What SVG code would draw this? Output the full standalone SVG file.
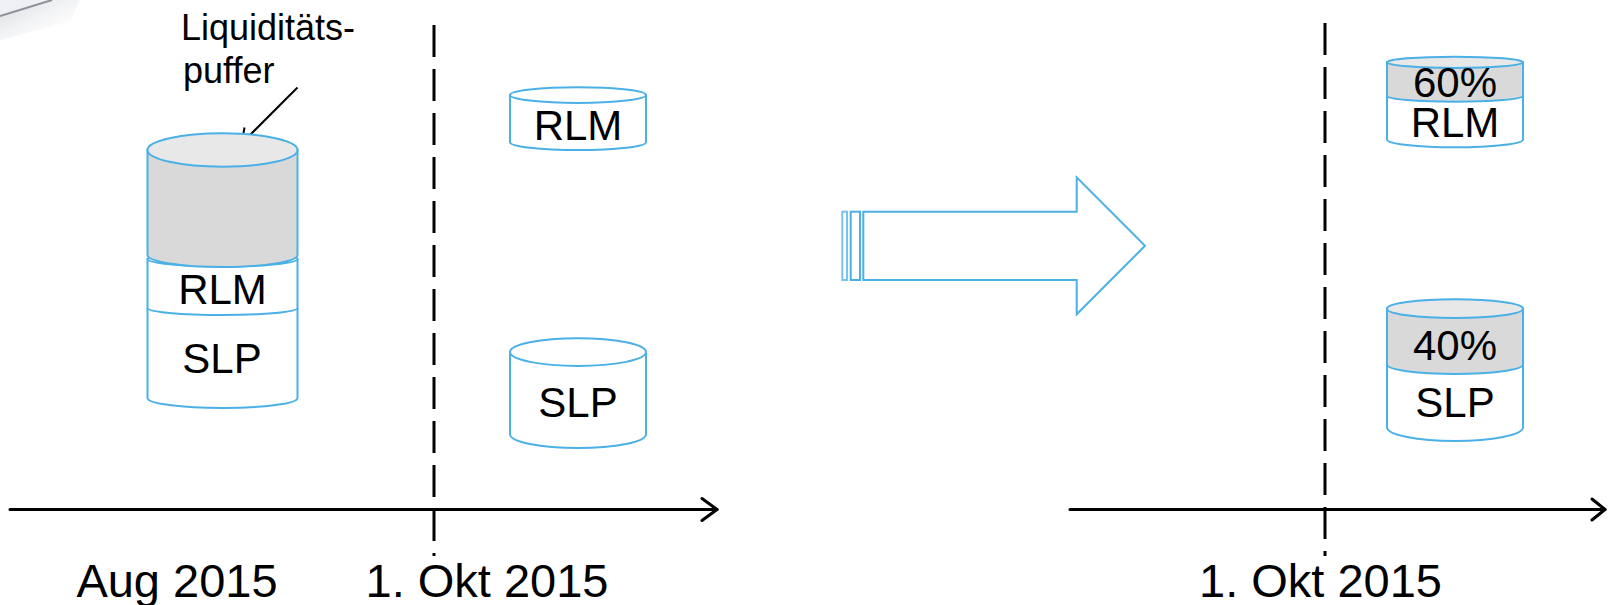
<svg xmlns="http://www.w3.org/2000/svg" width="1608" height="605" viewBox="0 0 1608 605">
<defs>
<style>
.cyl{stroke:#4bb0e6;stroke-width:2;}
.w{fill:#ffffff;}
.g{fill:#d9d9d9;}
.gt{fill:#e8e8e8;}
.t{font-family:"Liberation Sans",Arial,sans-serif;fill:#000;text-anchor:middle;}
.lbl{font-size:42px;}
.axis{stroke:#000;stroke-width:3;fill:none;stroke-linecap:round;stroke-linejoin:round;}
.dash{stroke:#000;stroke-width:3;stroke-dasharray:32 12;fill:none;}
</style>
<linearGradient id="streak" x1="0" y1="0" x2="1" y2="1">
<stop offset="0" stop-color="#c8ccd2" stop-opacity="0.8"/>
<stop offset="1" stop-color="#ffffff" stop-opacity="0"/>
</linearGradient>
</defs>
<rect width="1608" height="605" fill="#ffffff"/>

<!-- top-left streak fragment -->
<g id="corner">
<path d="M0,0 L52,0 L0,16 Z" fill="#eef0f3"/>
<path d="M0,16 L52,0 L80,0 L70,22 L0,40 Z" fill="url(#streak)"/>
<path d="M0,16 L52,0" stroke="#8c919a" stroke-width="2" fill="none"/>
</g>

<g id="connectors">
<line class="dash" x1="434" y1="25" x2="434" y2="556"/>
<line class="dash" x1="1325" y1="23" x2="1325" y2="556"/>
<line class="axis" x1="10" y1="509.5" x2="717" y2="509.5"/>
<polyline class="axis" points="702,498.5 717,509.5 702,520.5"/>
<line class="axis" x1="1070" y1="509.5" x2="1605" y2="509.5"/>
<polyline class="axis" points="1592,499 1605,509.5 1592,520"/>
<line x1="297.5" y1="87.5" x2="250" y2="135" stroke="#000" stroke-width="2"/>
<line x1="244.5" y1="127.5" x2="243.5" y2="133" stroke="#000" stroke-width="2"/>
</g>

<g id="label-liquiditaet">
<text class="t" x="181" y="39.5" font-size="36" text-anchor="start" style="text-anchor:start">Liquiditäts-</text>
<text class="t" x="183" y="83" font-size="36" style="text-anchor:start">puffer</text>
</g>

<!-- left stacked cylinder -->
<g id="left-slp">
<path class="cyl w" d="M147.5,308 L147.5,398 A75,10 0 0 0 297.5,398 L297.5,308"/>
<text class="t lbl" x="222" y="373">SLP</text>
</g>
<g id="left-rlm">
<path class="cyl w" d="M147.5,259 L147.5,308 A75,7 0 0 0 297.5,308 L297.5,259 Z"/>
<ellipse class="cyl w" cx="222.5" cy="259" rx="75" ry="7.5"/>
<text class="t lbl" x="222.5" y="304">RLM</text>
</g>
<g id="left-puffer">
<path class="cyl g" d="M147.5,150 L147.5,255 A75,12 0 0 0 297.5,255 L297.5,150 Z"/>
<ellipse class="cyl gt" cx="222.5" cy="150" rx="75" ry="16.7"/>
</g>

<!-- middle cylinders -->
<g id="mid-rlm">
<path class="cyl w" d="M510,95.1 L510,142.2 A68,7.8 0 0 0 646,142.2 L646,95.1 Z"/>
<ellipse class="cyl w" cx="578" cy="95.1" rx="68" ry="7.8"/>
<text class="t lbl" x="578" y="140">RLM</text>
</g>
<g id="mid-slp">
<path class="cyl w" d="M510,352.1 L510,434.2 A68,13.8 0 0 0 646,434.2 L646,352.1 Z"/>
<ellipse class="cyl w" cx="578" cy="352.1" rx="68" ry="13.8"/>
<text class="t lbl" x="578" y="417">SLP</text>
</g>

<!-- block arrow -->
<g id="block-arrow">
<rect x="842.3" y="211.7" width="4.7" height="68.3" fill="none" stroke="#4bb0e6" stroke-width="2" stroke-opacity="0.75"/>
<rect x="850.7" y="211.7" width="9.3" height="68.3" fill="none" stroke="#4bb0e6" stroke-width="2"/>
<path d="M863.3,211.7 L1076.7,211.7 L1076.7,177.3 L1145,245.8 L1076.7,314.3 L1076.7,280 L863.3,280 Z" fill="#ffffff" stroke="#4bb0e6" stroke-width="2"/>
</g>

<!-- right top -->
<g id="right-rlm">
<path class="cyl w" d="M1387,92.4 L1387,139.4 A68,7.9 0 0 0 1523,139.4 L1523,92.4 Z"/>
<text class="t lbl" x="1455" y="136.5">RLM</text>
</g>
<g id="right-rlm-puffer">
<path class="cyl g" d="M1387,62.3 L1387,96.1 A68,5.6 0 0 0 1523,96.1 L1523,62.3 Z"/>
<ellipse class="cyl gt" cx="1455" cy="62.3" rx="68" ry="5.6"/>
<text class="t lbl" x="1455" y="97">60%</text>
</g>

<!-- right bottom -->
<g id="right-slp">
<path class="cyl w" d="M1387,345 L1387,427.3 A68,13.75 0 0 0 1523,427.3 L1523,345 Z"/>
<text class="t lbl" x="1455" y="417">SLP</text>
</g>
<g id="right-slp-puffer">
<path class="cyl g" d="M1387,308.7 L1387,364.6 A68,9.4 0 0 0 1523,364.6 L1523,308.7 Z"/>
<ellipse class="cyl gt" cx="1455" cy="308.7" rx="68" ry="9.4"/>
<text class="t lbl" x="1455" y="360">40%</text>
</g>

<g id="dates">
<text class="t" x="177" y="597" font-size="47">Aug 2015</text>
<text class="t" x="487" y="597" font-size="47">1. Okt 2015</text>
<text class="t" x="1320.5" y="597" font-size="47">1. Okt 2015</text>
</g>
</svg>
